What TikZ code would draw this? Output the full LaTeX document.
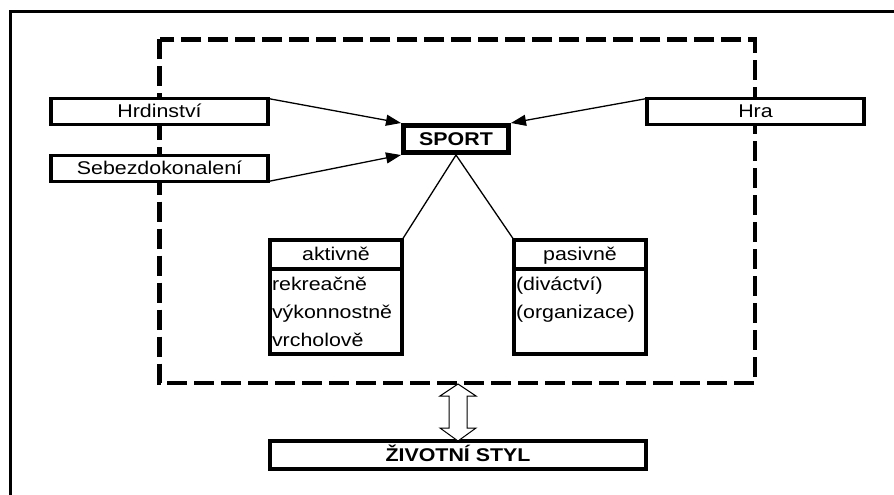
\documentclass[tikz,border=0pt]{standalone}
\usepackage{fontspec}
\setmainfont{Liberation Sans}[FakeStretch=1.16]
\usetikzlibrary{positioning, calc, arrows.meta}
\newcommand\diagfont{\fontsize{18.5}{28}\selectfont}

\begin{document}
\begin{tikzpicture}[x=1bp, y=-1bp,
    every node/.style={font=\diagfont, inner sep=0pt, outer sep=0pt},
    label box/.style={draw, fill=white, line width=3.5bp, minimum width=217bp, minimum height=26bp, text height=13bp, text depth=0bp},
    head box/.style={draw, fill=white, line width=3.5bp, minimum width=132bp, minimum height=29bp, text height=13bp, text depth=0bp},
    list box/.style={draw, line width=3.5bp, minimum width=132bp, minimum height=85bp, text width=128bp, align=left},
    pointer/.style={line width=1.3bp, -{Triangle[length=15bp, width=11bp]}},
    link/.style={line width=1.3bp}]
  \useasboundingbox (0,0) rectangle (894,495);
  \draw[line width=3bp] (10.5,495) -- (10.5,11.5) -- (894,11.5);
  \draw[line width=4.5bp, dash pattern=on 20bp off 7bp] (159.5,39.5) rectangle (755,383);
  \node[label box] (hrd) at (159.5,111.5) {Hrdinství};
  \node[label box] (sebe) at (159.5,168.5) {Sebezdokonalení};
  \node[label box] (hra) at (755.5,111.5) {Hra};
  \node[draw, fill=white, line width=5bp, outer sep=2.5bp, minimum width=105bp, minimum height=27bp, text height=13bp, text depth=0bp, font=\diagfont\bfseries] (sport) at (456,139) {SPORT};
  \node[head box] (akt) at (336,254.5) {aktivně};
  \node[list box, below=0pt of akt] (aktlist) {rekreačně\\výkonnostně\\vrcholově};
  \node[head box] (pas) at (580,254.5) {pasivně};
  \node[list box, below=0pt of pas] (paslist) {(diváctví)\\(organizace)\\\mbox{}};
  \node[label box, minimum width=376bp, minimum height=28bp, font=\diagfont\bfseries] (styl) at (458,455) {ŽIVOTNÍ STYL};
  \draw[pointer] (hrd.north east) -- (sport.north west);
  \draw[pointer] (sebe.south east) -- (sport.south west);
  \draw[pointer] (hra.north west) -- (sport.north east);
  \draw[link] (sport.south) -- (akt.north east);
  \draw[link] (sport.south) -- (pas.north west);
  \coordinate (gate) at ($(styl.north)+(0,-57)$);
  \draw[fill=white, line width=1bp] (gate) -- ++(18,12) -- ++(-9,0) -- ($(styl.north)+(9,-13)$) -- ++(9,0) -- (styl.north) -- ++(-18,-13) -- ++(9,0) -- ($(gate)+(-9,12)$) -- ++(-9,0) -- cycle;
\end{tikzpicture}
\end{document}
